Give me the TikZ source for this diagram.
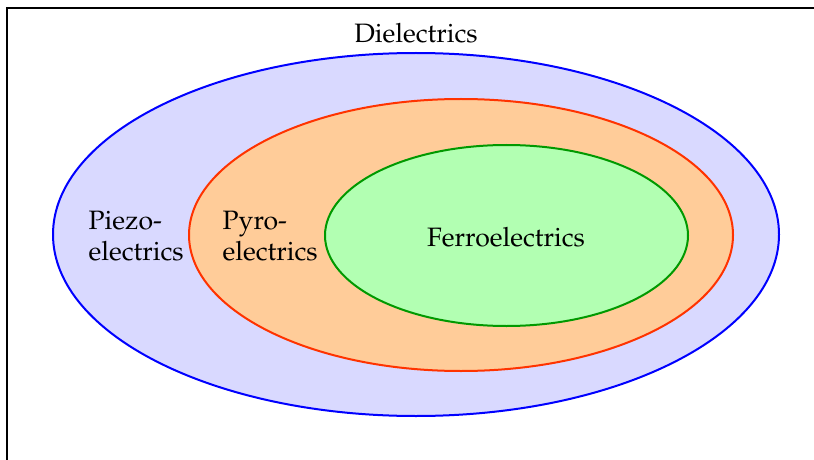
\documentclass[tikz,border=0pt]{standalone}
\usepackage[T1]{fontenc}
\usepackage{mathpazo}
\usepackage{tikz}

\definecolor{pyroline}{RGB}{255,51,0}
\definecolor{ferroline}{RGB}{0,153,0}

\begin{document}
\begin{tikzpicture}[x=0.5pt,y=-0.5pt,font=\fontsize{13.3}{15.5}\selectfont,line width=1pt]
\useasboundingbox (0,0) rectangle (814,460);
\draw (7,460)--(7,8)--(814,8);
% nested classes
\draw[blue,fill=blue!15] (416,234.5) ellipse[x radius=363,y radius=181.5];
\draw[pyroline,fill=orange!40] (461,235) ellipse[x radius=272,y radius=136];
\draw[ferroline,fill=green!30] (506.5,235.5) ellipse[x radius=181.5,y radius=90.5];
\node (diel) at (416,33) {Dielectrics};
\node[align=left,anchor=west] (piezo) at (81,236) {Piezo-\\electrics};
\node[align=left,anchor=west] (pyro) at (215,236) {Pyro-\\electrics};
\node (ferro) at (506,237) {Ferroelectrics};
\end{tikzpicture}
\end{document}
